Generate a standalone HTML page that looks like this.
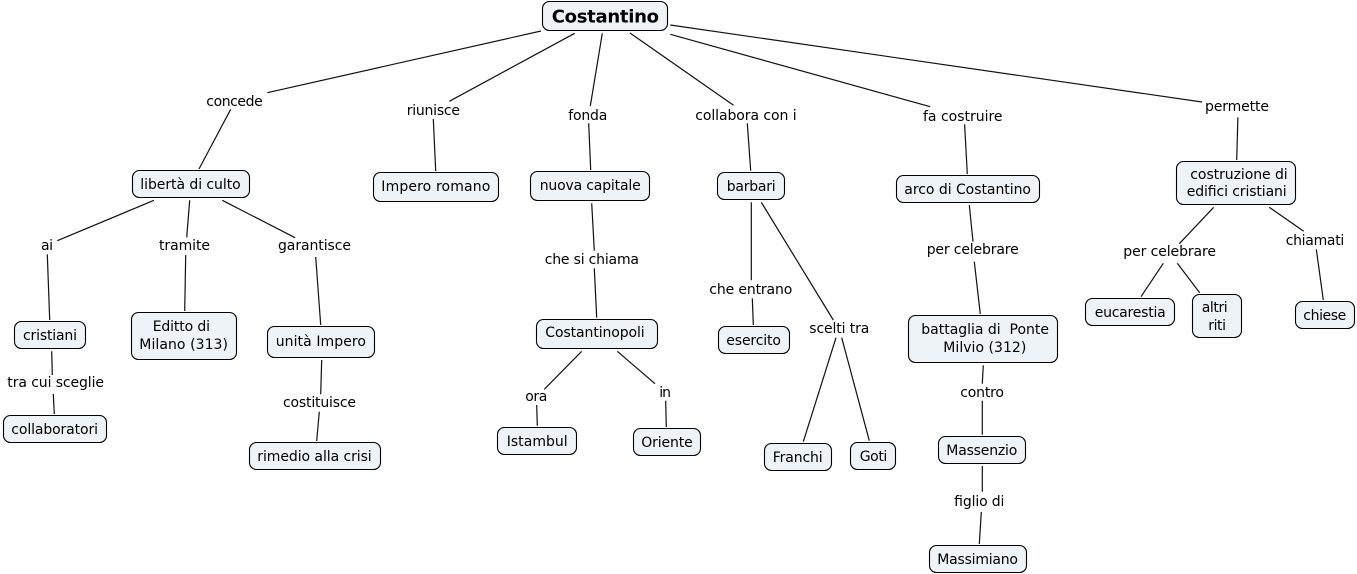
<!DOCTYPE html>
<html lang="it">
<head>
<meta charset="utf-8">
<title>Costantino</title>
<style>
html,body{margin:0;padding:0;background:#fff;width:1357px;height:574px;overflow:hidden}
svg{display:block}
text{font-family:"DejaVu Sans","Liberation Sans",sans-serif;font-size:14px;fill:#000}
.t{font-size:18px;font-weight:bold;fill:#000}
rect{fill:#edf3f6;stroke:#000;stroke-width:1.1}
line{stroke:#111;stroke-width:1.2}
</style>
</head>
<body>
<svg width="1357" height="574" viewBox="0 0 1357 574" xmlns="http://www.w3.org/2000/svg">
<g>
<line x1="541" y1="31" x2="267.3" y2="92.7"/>
<line x1="230.7" y1="109.3" x2="199" y2="169"/>
<line x1="574.7" y1="33.3" x2="449.3" y2="101.3"/>
<line x1="433.3" y1="119" x2="435.7" y2="171"/>
<line x1="602.3" y1="33.3" x2="590.3" y2="106"/>
<line x1="588.7" y1="123.3" x2="590.7" y2="170"/>
<line x1="630" y1="33" x2="733.5" y2="105.3"/>
<line x1="747.3" y1="123.3" x2="750.7" y2="170.7"/>
<line x1="670.3" y1="34.3" x2="930.2" y2="106.7"/>
<line x1="964.6" y1="124.3" x2="967.3" y2="174"/>
<line x1="670.3" y1="25" x2="1202" y2="102"/>
<line x1="1237.9" y1="117.3" x2="1236.7" y2="160"/>
<line x1="154" y1="200.3" x2="57.3" y2="240.7"/>
<line x1="47.3" y1="254.3" x2="49.7" y2="320"/>
<line x1="51.7" y1="351.3" x2="52.3" y2="375"/>
<line x1="53.3" y1="394" x2="54.3" y2="414"/>
<line x1="189.7" y1="200.3" x2="186.7" y2="237.3"/>
<line x1="185.7" y1="255" x2="184.7" y2="311"/>
<line x1="222.3" y1="200.3" x2="295" y2="237.7"/>
<line x1="315.7" y1="257" x2="320.7" y2="325"/>
<line x1="321.7" y1="360" x2="320.7" y2="394.3"/>
<line x1="319.3" y1="411.7" x2="316.7" y2="441"/>
<line x1="591.7" y1="203.3" x2="594.3" y2="250.7"/>
<line x1="594.3" y1="268.3" x2="596.7" y2="317.7"/>
<line x1="581.7" y1="351.3" x2="544.3" y2="389.3"/>
<line x1="536.7" y1="405" x2="537.3" y2="425.7"/>
<line x1="617.3" y1="351.3" x2="655" y2="383.7"/>
<line x1="665.7" y1="400.7" x2="666.3" y2="427"/>
<line x1="751.3" y1="202.3" x2="751.3" y2="280.3"/>
<line x1="752.3" y1="298.3" x2="753.3" y2="325"/>
<line x1="761.3" y1="202.3" x2="833.3" y2="320"/>
<line x1="836" y1="337.7" x2="803.3" y2="441.7"/>
<line x1="841.7" y1="337.7" x2="869.3" y2="440.7"/>
<line x1="969.3" y1="205" x2="973" y2="241.7"/>
<line x1="974.3" y1="261.7" x2="980.3" y2="314"/>
<line x1="983.3" y1="365.3" x2="982.3" y2="383.7"/>
<line x1="982.3" y1="400.7" x2="982.3" y2="434.7"/>
<line x1="982.3" y1="466" x2="982.3" y2="491.7"/>
<line x1="981.3" y1="512" x2="979.3" y2="544"/>
<line x1="1213.7" y1="207.3" x2="1179.3" y2="243.7"/>
<line x1="1163.3" y1="263.3" x2="1141" y2="296.7"/>
<line x1="1177.3" y1="263.3" x2="1199.7" y2="292.7"/>
<line x1="1269.3" y1="207.3" x2="1303.7" y2="231.3"/>
<line x1="1316.3" y1="249.3" x2="1323.3" y2="300"/>
</g>
<g>
<rect x="542.5" y="1.5" width="125" height="29" rx="7"/>
<rect x="132.5" y="170.5" width="117" height="27" rx="7"/>
<rect x="373.5" y="172.5" width="125" height="29" rx="7"/>
<rect x="530.5" y="171.5" width="119" height="29" rx="7"/>
<rect x="717.5" y="172.5" width="67" height="27" rx="7"/>
<rect x="896.5" y="175.5" width="143" height="27" rx="7"/>
<rect x="1176.5" y="161.5" width="119" height="43" rx="7"/>
<rect x="14.5" y="321.5" width="71" height="27" rx="7"/>
<rect x="131.5" y="312.5" width="105" height="47" rx="7"/>
<rect x="267.5" y="326.5" width="107" height="31" rx="7"/>
<rect x="3.5" y="415.5" width="103" height="27" rx="7"/>
<rect x="249.5" y="442.5" width="131" height="27" rx="7"/>
<rect x="536.5" y="319.5" width="121" height="29" rx="7"/>
<rect x="497.5" y="427.5" width="79" height="27" rx="7"/>
<rect x="633.5" y="428.5" width="67" height="27" rx="7"/>
<rect x="718.5" y="326.5" width="71" height="27" rx="7"/>
<rect x="764.5" y="443.5" width="67" height="27" rx="7"/>
<rect x="850.5" y="442.5" width="45" height="27" rx="7"/>
<rect x="908.5" y="315.5" width="149" height="47" rx="7"/>
<rect x="938.5" y="436.5" width="87" height="27" rx="7"/>
<rect x="929.5" y="545.5" width="97" height="27" rx="7"/>
<rect x="1085.5" y="298.5" width="89" height="27" rx="7"/>
<rect x="1192.5" y="294.5" width="49" height="43" rx="7"/>
<rect x="1295.5" y="301.5" width="59" height="27" rx="7"/>
</g>
<g>
<text class="t" x="551.7" y="22.5" textLength="107.3">Costantino</text>
<text x="206.3" y="106" textLength="56.4">concede</text>
<text x="406.7" y="115" textLength="53.3">riunisce</text>
<text x="568.3" y="120" textLength="39">fonda</text>
<text x="695.2" y="120" textLength="101.4">collabora con i</text>
<text x="923" y="121" textLength="79.5">fa costruire</text>
<text x="1205" y="111" textLength="64">permette</text>
<text x="140.3" y="189" textLength="100.4">libertà di culto</text>
<text x="381.3" y="191" textLength="109">Impero romano</text>
<text x="539.7" y="190" textLength="101">nuova capitale</text>
<text x="726.7" y="191" textLength="49">barbari</text>
<text x="904.3" y="194" textLength="126.7">arco di Costantino</text>
<text x="1190.3" y="179" textLength="97.4">costruzione di</text>
<text x="1186.7" y="196" textLength="100">edifici cristiani</text>
<text x="41" y="250" textLength="12">ai</text>
<text x="159" y="250" textLength="51">tramite</text>
<text x="278" y="250" textLength="73">garantisce</text>
<text x="544.7" y="264" textLength="94.3">che si chiama</text>
<text x="709.3" y="294" textLength="83">che entrano</text>
<text x="809.3" y="333" textLength="60">scelti tra</text>
<text x="926.7" y="254" textLength="92">per celebrare</text>
<text x="1123.3" y="256" textLength="92.7">per celebrare</text>
<text x="1285.7" y="245" textLength="58.6">chiamati</text>
<text x="23" y="340" textLength="54">cristiani</text>
<text x="152.7" y="331" textLength="57.3">Editto di</text>
<text x="139.3" y="349" textLength="88.7">Milano (313)</text>
<text x="275.7" y="346" textLength="90.3">unità Impero</text>
<text x="7.3" y="387" textLength="96.7">tra cui sceglie</text>
<text x="283" y="407" textLength="73">costituisce</text>
<text x="11.3" y="434" textLength="86.7">collaboratori</text>
<text x="257.3" y="461" textLength="114.4">rimedio alla crisi</text>
<text x="545.3" y="337" textLength="99.4">Costantinopoli</text>
<text x="525.3" y="401" textLength="22">ora</text>
<text x="659.3" y="397" textLength="11.7">in</text>
<text x="506.7" y="446" textLength="61">Istambul</text>
<text x="641.3" y="447" textLength="51.4">Oriente</text>
<text x="726.3" y="345" textLength="54.7">esercito</text>
<text x="772.7" y="462" textLength="50">Franchi</text>
<text x="859.7" y="461" textLength="27.6">Goti</text>
<text x="921.3" y="334" textLength="127.7" xml:space="preserve">battaglia di  Ponte</text>
<text x="943.3" y="352" textLength="83">Milvio (312)</text>
<text x="960.3" y="397" textLength="43.7">contro</text>
<text x="946.3" y="455" textLength="71">Massenzio</text>
<text x="954" y="506" textLength="50.3">figlio di</text>
<text x="937.3" y="564" textLength="80.7">Massimiano</text>
<text x="1094.7" y="317" textLength="71">eucarestia</text>
<text x="1201.7" y="312" textLength="26">altri</text>
<text x="1208.3" y="330" textLength="17.7">riti</text>
<text x="1303.3" y="320" textLength="43">chiese</text>
</g>
</svg>
</body>
</html>
